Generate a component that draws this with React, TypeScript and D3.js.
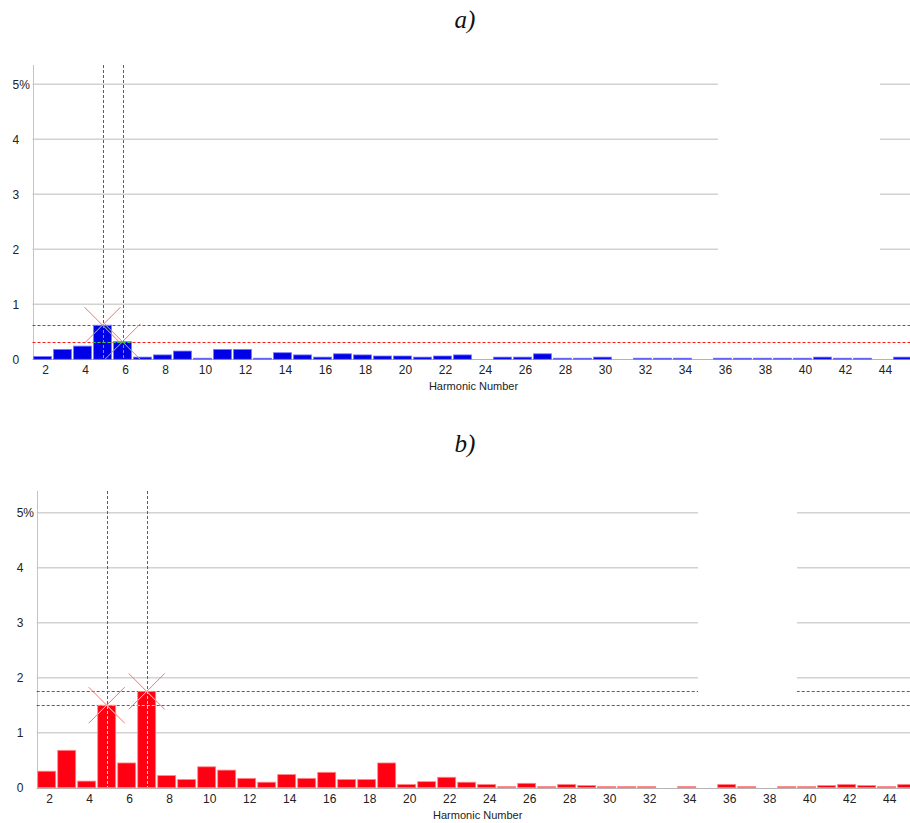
import React from "react";
import * as d3 from "d3";

// harmonic numbers shown on both charts
const harmonicNumbers = [
  2, 3, 4, 5, 6, 7, 8, 9, 10, 11, 12, 13, 14, 15, 16, 17, 18, 19, 20, 21, 22, 23,
  24, 25, 26, 27, 28, 29, 30, 31, 32, 33, 34, 35, 36, 37, 38, 39, 40, 41, 42, 43, 44, 45,
];

// a) harmonic content, % of fundamental
const valuesA = [
  0.05, 0.18, 0.24, 0.62, 0.32, 0.04, 0.08, 0.15, 0.02, 0.18, 0.18, 0.02, 0.12, 0.08, 0.04,
  0.1, 0.08, 0.06, 0.06, 0.04, 0.06, 0.08, 0, 0.04, 0.04, 0.1, 0.02, 0.02, 0.04, 0, 0.02,
  0.02, 0.02, 0, 0.02, 0.02, 0.02, 0.02, 0.02, 0.04, 0.02, 0.02, 0, 0.04,
];

// b) harmonic content, % of fundamental
const valuesB = [
  0.3, 0.68, 0.12, 1.5, 0.45, 1.75, 0.22, 0.15, 0.38, 0.32, 0.17, 0.1, 0.24, 0.17, 0.28,
  0.15, 0.15, 0.45, 0.06, 0.11, 0.19, 0.1, 0.06, 0.02, 0.08, 0.02, 0.06, 0.04, 0.02, 0.02,
  0.02, 0, 0.02, 0, 0.06, 0.02, 0, 0.02, 0.02, 0.04, 0.06, 0.04, 0.02, 0.06,
];

const peaksA = [5, 6];
const peaksB = [5, 7];

const yTicks = [0, 1, 2, 3, 4, 5];
const yTickLabels = ["0", "1", "2", "3", "4", "5%"];
const xTickLabels = [2, 4, 6, 8, 10, 12, 14, 16, 18, 20, 22, 24, 26, 28, 30, 32, 34, 36, 38, 40, 42, 44];

const W = 910;
const H = 823;
const uiFont = "'Liberation Sans', Arial, sans-serif";

// snap a line coordinate to the pixel grid so 1px lines stay crisp
const px = (v: number) => Math.round(v) + 0.5;

type PanelProps = {
  id: string;
  title: string;
  values: number[];
  peaks: number[];
  fill: string;
  edge: string;
  inner: string;
  axisX: number;
  zeroY: number;
  axisTop: number;
  titleY: number;
  gap: { x0: number; x1: number; y0: number; y1: number };
};

function Panel(p: PanelProps) {
  const x = d3.scaleLinear().domain([1.5, 2.5]).range([p.axisX, p.axisX + 20]);
  const y = d3.scaleLinear().domain([0, 5]).range([p.zeroY, p.zeroY - 275]);
  const data = harmonicNumbers.map((h, i) => ({ h, v: p.values[i] })).filter((d) => d.v > 0);
  const peakPts = p.peaks.map((h) => ({ h, v: p.values[harmonicNumbers.indexOf(h)] }));
  const m = 18;

  const overlay = (color: string, markColor: string) => (
    <g>
      {peakPts.map((d) => (
        <line key={"v" + d.h} x1={px(x(d.h))} x2={px(x(d.h))} y1={p.axisTop} y2={p.zeroY}
          stroke={color} strokeDasharray="3,2" />
      ))}
      {peakPts.map((d) => (
        <line key={"hz" + d.h} x1={p.axisX} x2={W} y1={px(y(d.v))} y2={px(y(d.v))}
          stroke={color} strokeDasharray="3,2" />
      ))}
      {peakPts.map((d) => (
        <g key={"m" + d.h} stroke={markColor}>
          <line x1={x(d.h) - m} y1={y(d.v) - m} x2={x(d.h) + m} y2={y(d.v) + m} />
          <line x1={x(d.h) - m} y1={y(d.v) + m} x2={x(d.h) + m} y2={y(d.v) - m} />
        </g>
      ))}
    </g>
  );

  return (
    <g>
      <text x={465} y={p.titleY} textAnchor="middle" fontFamily="'Liberation Serif', 'Times New Roman', serif"
        fontStyle="italic" fontSize={25} fill="#111">{p.title}</text>

      {/* grid */}
      {yTicks.filter((t) => t > 0).map((t) => (
        <line key={t} x1={p.axisX} x2={W} y1={y(t)} y2={y(t)} stroke="#d2d2d2" strokeWidth={1.5} />
      ))}
      <line x1={p.axisX} x2={W} y1={px(p.zeroY)} y2={px(p.zeroY)} stroke="#b4b4b4" />
      <line x1={px(p.axisX)} x2={px(p.axisX)} y1={p.axisTop} y2={p.zeroY} stroke="#c4c4c4" />

      {/* y labels */}
      {yTicks.map((t, i) => (
        <text key={t} x={p.axisX - 20} y={y(t)} dy="0.35em" fontFamily={uiFont} fontSize={12} fill="#222">
          {yTickLabels[i]}
        </text>
      ))}

      {/* x labels */}
      {xTickLabels.map((t) => (
        <text key={t} x={x(t) + 3} y={p.zeroY + 15} textAnchor="middle" fontFamily={uiFont} fontSize={12} fill="#222">
          {t}
        </text>
      ))}
      <text x={p.axisX + 441} y={p.zeroY + 31} textAnchor="middle" fontFamily={uiFont} fontSize={11} fill="#222">
        Harmonic Number
      </text>

      {/* bars */}
      <clipPath id={p.id + "-clip"}>
        {data.map((d) => (
          <rect key={d.h} x={x(d.h) - 9} y={y(d.v)} width={18} height={y(0) - y(d.v)} />
        ))}
      </clipPath>
      <g>
        {data.map((d) => (
          <rect key={d.h} x={x(d.h) - 9} y={y(d.v)} width={18} height={Math.max(1, y(0) - y(d.v))}
            fill={p.fill} stroke={p.edge} strokeWidth={0.8} />
        ))}
      </g>

      {overlay("#ff1a1a", "#ff7070")}
      <g clipPath={`url(#${p.id}-clip)`}>{overlay(p.inner, p.inner)}</g>

      {/* blank region where the grid is not drawn */}
      <rect x={p.gap.x0} y={p.gap.y0} width={p.gap.x1 - p.gap.x0} height={p.gap.y1 - p.gap.y0} fill="#fff" />
    </g>
  );
}

export default function App() {
  return (
    <svg width={W} height={H} style={{ position: "absolute", left: 0, top: 0, background: "#fff" }}>
      <Panel id="a" title="a)" values={valuesA} peaks={peaksA} fill="#0000e6" edge="#7a7aff" inner="#33cc55"
        axisX={32.5} zeroY={359.3} axisTop={65} titleY={28}
        gap={{ x0: 718, x1: 880, y0: 70, y1: 296 }} />
      <Panel id="b" title="b)" values={valuesB} peaks={peaksB} fill="#ff0012" edge="#ff8a8a" inner="#ffc0c0"
        axisX={36.7} zeroY={787.7} axisTop={491} titleY={452}
        gap={{ x0: 698, x1: 797, y0: 496, y1: 698 }} />
    </svg>
  );
}
